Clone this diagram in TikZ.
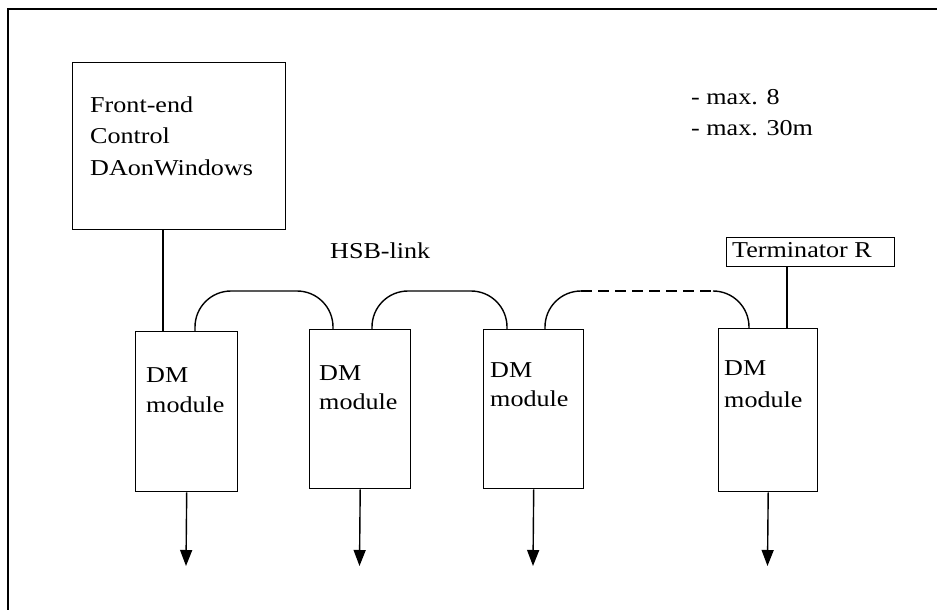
\documentclass[tikz,border=0pt]{standalone}
\usepackage{fontspec}
\setmainfont{Liberation Serif}[FakeStretch=1.15]
\usetikzlibrary{arrows.meta}
\begin{document}
\begin{tikzpicture}[x=1pt,y=-1pt,
  box/.style={draw, line width=1.4pt, inner sep=0pt, anchor=north west},
  lbl/.style={anchor=base west, inner sep=0pt, font=\fontsize{22.7}{30}\selectfont},
  wire/.style={line width=1.4pt},
  bus/.style={line width=1.4pt, rounded corners=36pt},
  dashbus/.style={line width=1.4pt, dash pattern=on 11pt off 6pt},
  arr/.style={line width=1.4pt, -{Triangle[length=16pt,width=12pt]}}]
\useasboundingbox (0,0) rectangle (937,610);
% frame
\draw[line width=1.4pt] (8,610) -- (8,9) -- (937,9);
% boxes
\node[box, minimum width=213pt, minimum height=167pt] (fe) at (72,62) {};
\node[box, minimum width=102pt, minimum height=160pt] (dm1) at (135,331) {};
\node[box, minimum width=101pt, minimum height=159pt] (dm2) at (309,329) {};
\node[box, minimum width=100pt, minimum height=159pt] (dm3) at (483,329) {};
\node[box, minimum width=99pt, minimum height=163pt] (dm4) at (718,328) {};
\node[box, minimum width=168pt, minimum height=29pt] (term) at (726,237) {};
% texts
\node[lbl] (fe1) at (90,112) {Front-end};
\node[lbl] (fe2) at (90,143.5) {Control};
\node[lbl] (fe3) at (90,175.5) {DAonWindows};
\node[lbl] (d1a) at (146,382) {DM};
\node[lbl] (d1b) at (146,412) {module};
\node[lbl] (d2a) at (319,380) {DM};
\node[lbl] (d2b) at (319,409) {module};
\node[lbl] (d3a) at (490,377) {DM};
\node[lbl] (d3b) at (490,406) {module};
\node[lbl] (d4a) at (724,375) {DM};
\node[lbl] (d4b) at (724,407) {module};
\node[lbl] (tt) at (732,257) {Terminator R};
\node[lbl] (hsb) at (330,258) {HSB-link};
\node[lbl] (m1) at (691,104) {- max. 8};
\node[lbl] (m2) at (691,135) {- max. 30m};
% vertical connectors
\coordinate (c1) at (163,0);
\coordinate (c2) at (787,0);
\draw[wire] (c1 |- fe.south) -- (c1 |- dm1.north);
\draw[wire] (c2 |- term.south) -- (c2 |- dm4.north);
% bus links
\coordinate (top) at (0,291);
\coordinate (b1) at (195,0);
\coordinate (b2) at (333,0);
\coordinate (b3) at (372,0);
\coordinate (b4) at (507,0);
\coordinate (b5) at (545,0);
\coordinate (b5e) at (581,291);
\coordinate (b6s) at (713,291);
\coordinate (b6) at (749,0);
\draw[bus] (b1 |- dm1.north) -- (b1 |- top) -- (b2 |- top) -- (b2 |- dm2.north);
\draw[bus] (b3 |- dm2.north) -- (b3 |- top) -- (b4 |- top) -- (b4 |- dm3.north);
\draw[bus] (b5 |- dm3.north) -- (b5 |- top) -- (b5e);
\draw[dashbus] (b5e) -- (b6s);
\draw[bus] (b6s) -- (b6 |- top) -- (b6 |- dm4.north);
% outputs
\coordinate (e1) at (186,566);
\coordinate (e2) at (359.5,566);
\coordinate (e3) at (533,566);
\coordinate (e4) at (767.5,566);
\draw[arr] (dm1.south) -- (e1);
\draw[arr] (dm2.south) -- (e2);
\draw[arr] (dm3.south) -- (e3);
\draw[arr] (dm4.south) -- (e4);
\end{tikzpicture}
\end{document}
